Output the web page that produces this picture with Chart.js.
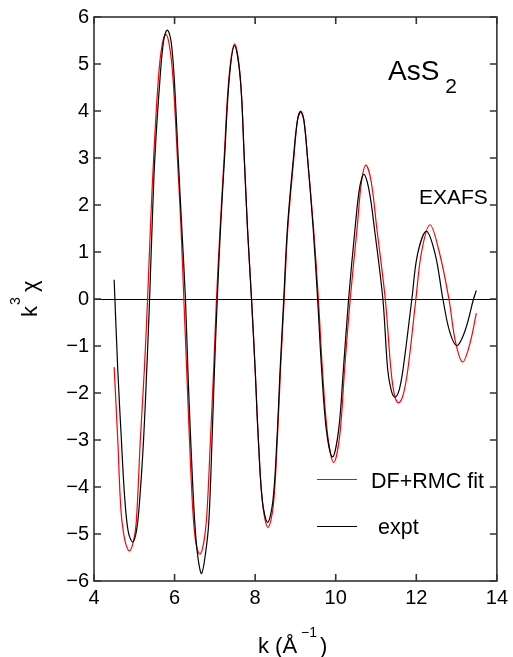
<!DOCTYPE html>
<html>
<head>
<meta charset="utf-8">
<script src="https://cdn.jsdelivr.net/npm/chart.js@4"></script>
<style>
  html, body { margin: 0; padding: 0; background: #fff; }
  #wrap { width: 513px; height: 657px; }
</style>
</head>
<body>
<div id="wrap"><canvas id="exafsChart" width="513" height="657"></canvas></div>
<script>
// values
const seriesNames = ['DF+RMC fit', 'expt'];
const xTicks = [4, 6, 8, 10, 12, 14];
const yTicks = [-6, -5, -4, -3, -2, -1, 0, 1, 2, 3, 4, 5, 6];

const kExpt = [4.50, 4.59, 4.68, 4.76, 4.85, 4.96, 5.06, 5.14, 5.23, 5.31, 5.38,
  5.44, 5.51, 5.64, 5.73, 5.82, 5.91, 5.99, 6.09, 6.18, 6.27, 6.33,
  6.40, 6.50, 6.58, 6.67, 6.77, 6.85, 6.93, 6.99, 7.06, 7.14,
  7.24, 7.36, 7.49, 7.63, 7.73, 7.81, 7.91, 8.00, 8.08, 8.18,
  8.31, 8.44, 8.54, 8.62, 8.71, 8.80, 8.95, 9.05, 9.13, 9.21, 9.30, 9.44,
  9.55, 9.65, 9.77, 9.92, 10.07, 10.19, 10.32, 10.48, 10.59, 10.70, 10.83, 10.96,
  11.17, 11.29, 11.38, 11.47, 11.57, 11.67, 11.89, 12.03, 12.25, 12.47, 12.66,
  12.83, 13.01, 13.22, 13.42, 13.49];
const chiExpt = [0.41, -1.5, -3.0, -4.2, -4.95, -5.17, -4.9, -4.2, -3.0, -1.5, 0,
  1.5, 3.0, 4.71, 5.5, 5.72, 5.5, 4.71, 3.0, 1.5, 0, -1.5,
  -3.0, -4.74, -5.5, -5.84, -5.4, -4.74, -3.0, -1.5, 0, 1.5,
  3.0, 4.71, 5.39, 4.71, 3.0, 1.5, 0, -1.5, -3.0, -4.3,
  -4.75, -4.3, -3.0, -1.5, 0, 1.5, 3.0, 3.8, 3.98, 3.8, 3.0, 1.5,
  0, -1.5, -2.8, -3.36, -2.8, -1.5, 0, 1.5, 2.35, 2.65, 2.3, 1.5,
  0, -1.5, -1.95, -2.09, -1.95, -1.5, 0, 0.95, 1.44, 0.95, 0,
  -0.7, -0.99, -0.65, 0, 0.18];

const kFit = [4.50, 4.59, 4.67, 4.77, 4.88, 4.98, 5.05, 5.15, 5.25, 5.33, 5.40,
  5.48, 5.60, 5.69, 5.78, 5.87, 5.96, 6.07, 6.16, 6.23, 6.30,
  6.37, 6.46, 6.54, 6.63, 6.72, 6.80, 6.89, 6.97, 7.04, 7.13,
  7.23, 7.35, 7.49, 7.63, 7.73, 7.81, 7.91, 8.00, 8.08, 8.19,
  8.32, 8.45, 8.55, 8.63, 8.72, 8.81, 8.96, 9.05, 9.13, 9.21, 9.30, 9.45,
  9.57, 9.67, 9.80, 9.95, 10.10, 10.22, 10.36, 10.53, 10.64, 10.75, 10.88, 11.02,
  11.23, 11.37, 11.46, 11.56, 11.67, 11.79, 11.99, 12.13, 12.34, 12.57, 12.81,
  12.97, 13.15, 13.33, 13.49];
const chiFit = [-1.45, -3.0, -4.5, -5.15, -5.36, -5.15, -4.74, -3.0, -1.5, 0, 1.5,
  3.0, 4.71, 5.4, 5.63, 5.4, 4.71, 3.0, 1.5, 0, -1.5,
  -3.0, -4.6, -5.25, -5.43, -5.2, -4.6, -3.0, -1.5, 0, 1.5,
  3.0, 4.71, 5.43, 4.71, 3.0, 1.5, 0, -1.5, -3.0, -4.4,
  -4.86, -4.4, -3.0, -1.5, 0, 1.5, 3.0, 3.8, 4.0, 3.8, 3.0, 1.5,
  0, -1.5, -2.9, -3.48, -2.9, -1.5, 0, 1.5, 2.5, 2.85, 2.5, 1.5,
  0, -1.5, -2.05, -2.21, -2.05, -1.5, 0, 1.0, 1.58, 1.0, 0,
  -0.9, -1.34, -0.95, -0.30];

const FONT = '"Liberation Sans", Arial, Helvetica, sans-serif';
const toPts = (xs, ys) => xs.map((x, i) => ({ x: x, y: ys[i] }));

// frame, inward ticks, zero line and all the text labels
const framePlugin = {
  id: 'framePlugin',
  beforeDatasetsDraw(chart) {
    const { ctx, chartArea: a, scales: { y } } = chart;
    const y0 = Math.round(y.getPixelForValue(0)) + 0.5;
    ctx.save();
    ctx.strokeStyle = '#000';
    ctx.lineWidth = 1;
    ctx.beginPath();
    ctx.moveTo(a.left, y0);
    ctx.lineTo(a.right, y0);
    ctx.stroke();
    ctx.restore();
  },
  afterDraw(chart) {
    const { ctx, chartArea: a, scales: { x, y } } = chart;
    ctx.save();
    ctx.strokeStyle = '#333';
    ctx.lineWidth = 1.6;
    ctx.strokeRect(a.left, a.top, a.right - a.left, a.bottom - a.top);
    ctx.beginPath();
    xTicks.forEach(v => {
      const px = x.getPixelForValue(v);
      ctx.moveTo(px, a.bottom); ctx.lineTo(px, a.bottom - 7);
      ctx.moveTo(px, a.top); ctx.lineTo(px, a.top + 7);
    });
    yTicks.forEach(v => {
      const py = y.getPixelForValue(v);
      ctx.moveTo(a.left, py); ctx.lineTo(a.left + 7, py);
      ctx.moveTo(a.right, py); ctx.lineTo(a.right - 7, py);
    });
    ctx.stroke();

    ctx.fillStyle = '#000';
    ctx.textBaseline = 'alphabetic';
    ctx.textAlign = 'left';

    // AsS2
    ctx.font = '28px ' + FONT;
    ctx.fillText('AsS', 388, 80);
    const wAs = ctx.measureText('AsS').width;
    ctx.font = '21px ' + FONT;
    ctx.fillText('2', 388 + wAs + 6, 93);

    // EXAFS
    ctx.font = '21px ' + FONT;
    ctx.fillText('EXAFS', 419, 204);

    // legend
    ctx.lineWidth = 1;
    ctx.strokeStyle = '#ff0000';
    ctx.beginPath(); ctx.moveTo(317, 479.5); ctx.lineTo(357, 479.5); ctx.stroke();
    ctx.strokeStyle = '#000';
    ctx.beginPath(); ctx.moveTo(317, 526.5); ctx.lineTo(357, 526.5); ctx.stroke();
    ctx.font = '21.5px ' + FONT;
    ctx.fillText(seriesNames[0], 371, 488);
    ctx.fillText(seriesNames[1], 378, 534);

    // x title: k (Å^-1)
    ctx.font = '22px ' + FONT;
    ctx.fillText('k (Å', 258, 653);
    let cx = 258 + ctx.measureText('k (Å').width + 4;
    ctx.font = '14px ' + FONT;
    ctx.fillText('\u22121', cx, 637);
    cx += ctx.measureText('\u22121').width + 3;
    ctx.font = '22px ' + FONT;
    ctx.fillText(')', cx, 653);

    // y title: k^3 chi, rotated
    ctx.translate(37, 317);
    ctx.rotate(-Math.PI / 2);
    ctx.font = '22px ' + FONT;
    ctx.fillText('k', 0, 0);
    ctx.font = '14px ' + FONT;
    ctx.fillText('3', 12, -17);
    ctx.font = '22px ' + FONT;
    ctx.fillText('\u03c7', 25, 0);
    ctx.restore();
  }
};

const ctx = document.getElementById('exafsChart').getContext('2d');
new Chart(ctx, {
  type: 'line',
  data: {
    datasets: [
      {
        label: seriesNames[1],
        data: toPts(kExpt, chiExpt),
        borderColor: '#000000',
        borderWidth: 1.2,
        pointRadius: 0,
        tension: 0.35,
        fill: false
      },
      {
        label: seriesNames[0],
        data: toPts(kFit, chiFit),
        borderColor: '#ff0000',
        borderWidth: 1.2,
        pointRadius: 0,
        tension: 0.35,
        fill: false
      }
    ]
  },
  options: {
    responsive: false,
    animation: false,
    layout: { padding: { left: 0, top: 14, right: 13, bottom: 0 } },
    plugins: { legend: { display: false }, tooltip: { enabled: false } },
    scales: {
      x: {
        type: 'linear',
        min: xTicks[0],
        max: xTicks[xTicks.length - 1],
        afterBuildTicks: s => { s.ticks = xTicks.map(v => ({ value: v })); },
        afterFit: s => { s.height = 76; },
        grid: { display: false, drawTicks: false },
        border: { display: false },
        ticks: {
          padding: 5,
          color: '#000',
          font: { family: FONT, size: 20 },
          maxRotation: 0,
          callback: v => String(v)
        }
      },
      y: {
        type: 'linear',
        min: yTicks[0],
        max: yTicks[yTicks.length - 1],
        afterBuildTicks: s => { s.ticks = yTicks.map(v => ({ value: v })); },
        afterFit: s => { s.width = 94; },
        grid: { display: false, drawTicks: false },
        border: { display: false },
        ticks: {
          padding: 5,
          color: '#000',
          font: { family: FONT, size: 20 },
          callback: v => String(v).replace('-', '\u2212')
        }
      }
    }
  },
  plugins: [framePlugin]
});
</script>
</body>
</html>
